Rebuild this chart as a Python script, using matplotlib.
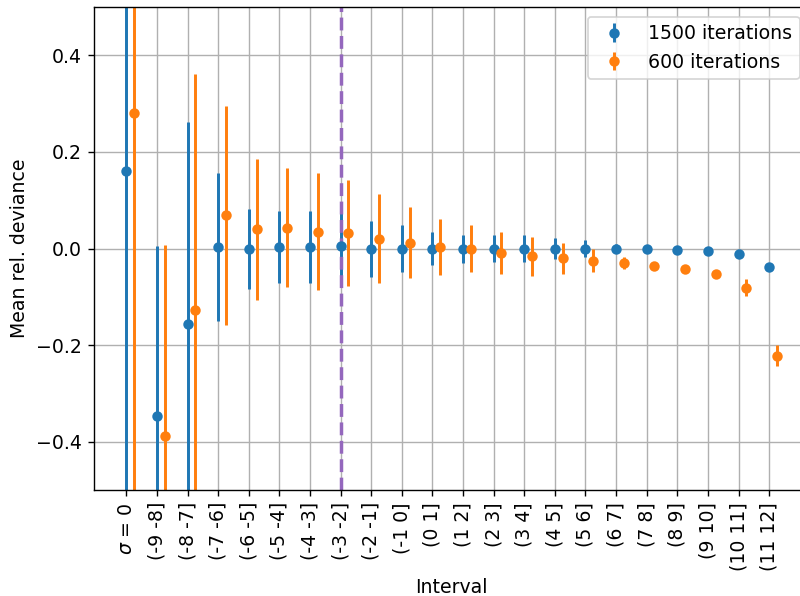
import numpy as np
import matplotlib.pyplot as plt

labels = [r'$\sigma$ = 0', '(-9 -8]', '(-8 -7]', '(-7 -6]', '(-6 -5]', '(-5 -4]',
          '(-4 -3]', '(-3 -2]', '(-2 -1]', '(-1 0]', '(0 1]', '(1 2]', '(2 3]',
          '(3 4]', '(4 5]', '(5 6]', '(6 7]', '(7 8]', '(8 9]', '(9 10]',
          '(10 11]', '(11 12]']

mean_1500 = [0.160, -0.346, -0.157, 0.003, -0.001, 0.003, 0.003, 0.006, -0.001, 0.000,
             0.000, 0.000, 0.000, 0.000, 0.000, 0.000, 0.000, -0.001, -0.003, -0.005,
             -0.011, -0.0375]
err_1500 = [0.75, 0.352, 0.419, 0.153, 0.083, 0.074, 0.075, 0.068, 0.058, 0.048,
            0.035, 0.029, 0.028, 0.027, 0.021, 0.017, 0.010, 0.004, 0.003, 0.003,
            0.004, 0.004]

mean_600 = [0.281, -0.3875, -0.127, 0.069, 0.040, 0.043, 0.035, 0.032, 0.020, 0.012,
            0.004, 0.000, -0.009, -0.016, -0.020, -0.025, -0.030, -0.037, -0.043, -0.053,
            -0.081, -0.222]
err_600 = [0.85, 0.394, 0.489, 0.227, 0.146, 0.123, 0.121, 0.109, 0.092, 0.074,
           0.058, 0.049, 0.043, 0.040, 0.032, 0.024, 0.0125, 0.004, 0.004, 0.004,
           0.017, 0.022]

x = np.arange(len(labels))

plt.rcParams['font.size'] = 10.9

fig = plt.figure(figsize=(6.4, 4.768), dpi=125)
# the original image is cropped on the right, so the axes run past the edge
ax = fig.add_axes([0.1175, 0.178, 0.894, 0.81])

ax.errorbar(x, mean_1500, yerr=err_1500, fmt='o', ms=5, elinewidth=1.7,
            label='1500 iterations')
ax.errorbar(x + 0.25, mean_600, yerr=err_600, fmt='o', ms=5, elinewidth=1.7,
            label='600 iterations')
ax.axvline(7, color='C4', linestyle='--', linewidth=2)

ax.set_xticks(x)
ax.set_xticklabels(labels, rotation=90)
ax.set_xlim(-1.06, 22.31)
ax.set_ylim(-0.5, 0.5)
ax.set_yticks([-0.4, -0.2, 0.0, 0.2, 0.4])
ax.grid(True)
ax.set_axisbelow(True)
ax.set_xlabel('Interval')
ax.set_ylabel('Mean rel. deviance')
ax.legend(loc='upper right')

fig.savefig('out.png', dpi=125)
